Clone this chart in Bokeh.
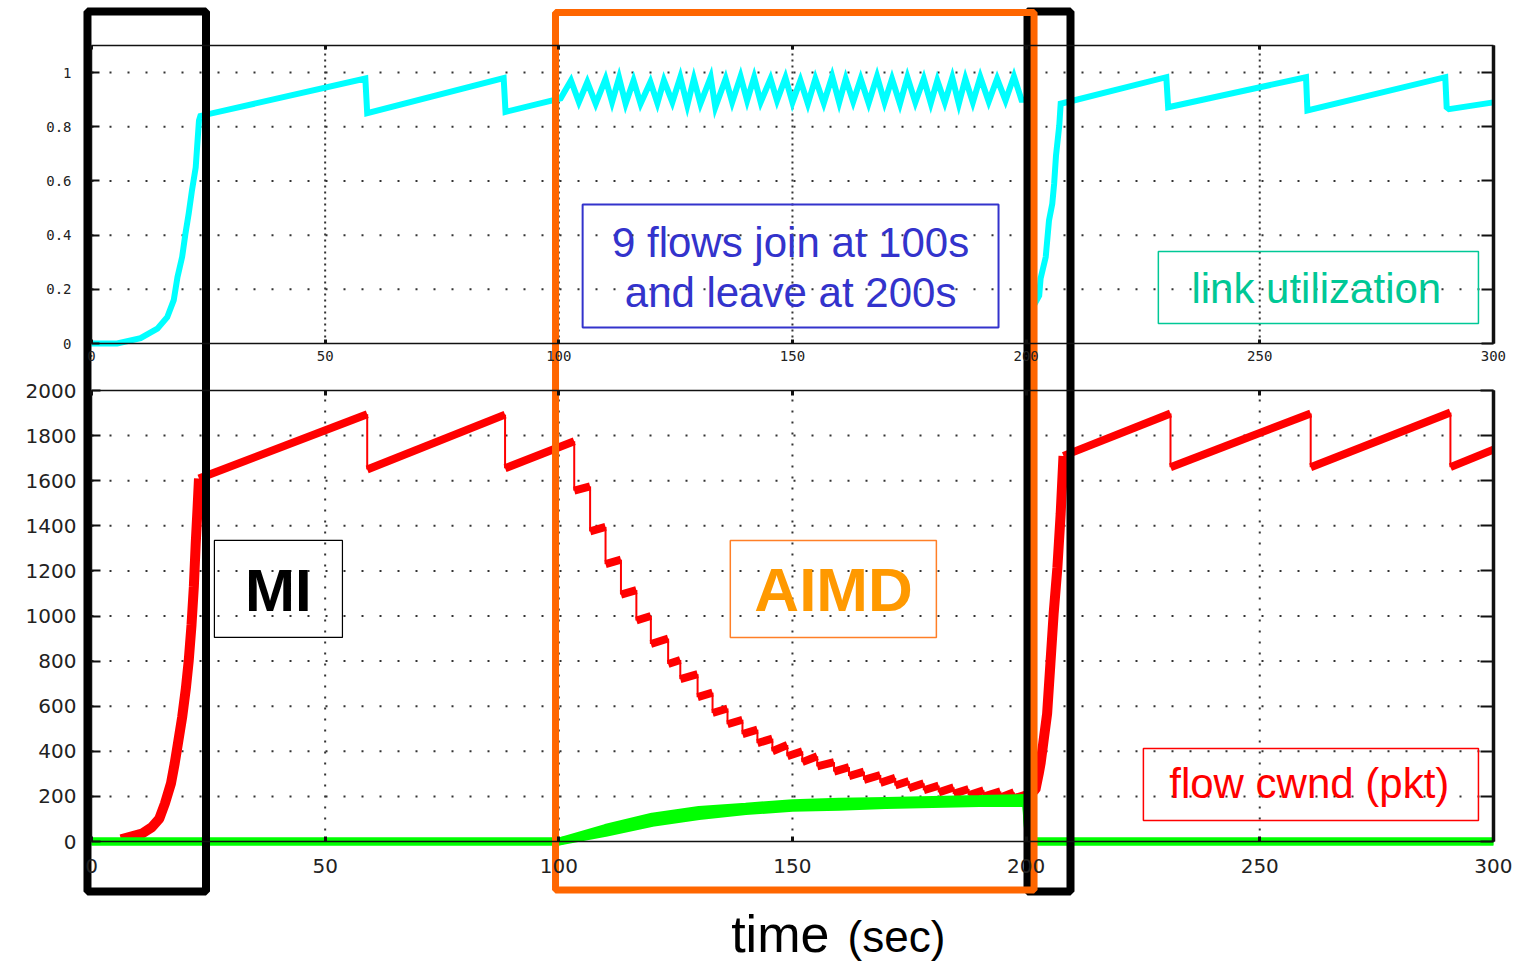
from bokeh.plotting import figure
from bokeh.models import Range1d, LinearAxis, FixedTicker, Label
from bokeh.embed import file_html
from bokeh.resources import INLINE

# ---------------------------------------------------------------- data
x_ticks = [0, 50, 100, 150, 200, 250, 300]
util_ticks = [0, 0.2, 0.4, 0.6, 0.8, 1.0]
util_tick_labels = ["0", "0.2", "0.4", "0.6", "0.8", "1"]
cwnd_ticks = [0, 200, 400, 600, 800, 1000, 1200, 1400, 1600, 1800, 2000]

# link utilization: start-up ramp and additive-increase sawtooth
util_ramp_t = [0, 5.5, 10.5, 14.1, 16.2, 17.6, 18.4, 19.4, 20.1, 20.8, 21.5, 22.3, 22.6, 23.0, 23.3]
util_ramp_v = [0, 0, 0.02, 0.055, 0.097, 0.16, 0.245, 0.32, 0.405, 0.48, 0.565, 0.65, 0.725, 0.823, 0.84]
util_ai_t = [58.6, 59.0, 88.2, 88.6, 100.4]
util_ai_v = [0.978, 0.85, 0.98, 0.855, 0.905]
# oscillation while the 9 extra flows are present
util_peak_t = [102.6, 106.1, 110.0, 112.9, 116.0, 119.6, 122.5, 126.0, 128.9, 132.5,
               135.7, 138.9, 141.8, 145.3, 148.5, 151.7, 154.9, 158.5, 161.4, 164.6,
               168.1, 171.3, 174.6, 178.1, 181.0, 184.2, 187.0, 190.2, 193.8, 197.4]
util_peak_v = [0.971, 0.965, 0.977, 0.981, 0.971, 0.965, 0.971, 0.983, 0.977, 0.983,
               0.977, 0.986, 0.983, 0.977, 0.981, 0.971, 0.977, 0.986, 0.977, 0.977,
               0.986, 0.977, 0.983, 0.977, 0.971, 0.981, 0.977, 0.983, 0.977, 0.986]
util_trough_t = [104.3, 107.9, 111.4, 114.3, 117.5, 121.1, 124.3, 127.5, 130.3, 133.5,
                 137.1, 140.3, 143.2, 146.7, 150.0, 153.3, 156.7, 160.0, 163.0, 166.3,
                 169.7, 173.0, 176.3, 179.6, 182.6, 185.6, 188.6, 192.0, 195.6, 199.0]
util_trough_v = [0.891, 0.885, 0.891, 0.885, 0.885, 0.887, 0.891, 0.879, 0.885, 0.872,
                 0.891, 0.897, 0.891, 0.897, 0.890, 0.885, 0.887, 0.890, 0.893, 0.887,
                 0.890, 0.885, 0.890, 0.887, 0.890, 0.885, 0.890, 0.893, 0.897, 0.900]
util_post_t = [200.5, 201.0, 202.8, 203.1, 204.2, 204.9, 205.6, 206.0, 206.4, 207.1, 207.4,
               230.0, 230.4, 259.9, 260.2, 289.7, 290.0, 290.5, 300.0]
util_post_v = [0.90, 0.12, 0.177, 0.24, 0.319, 0.454, 0.516, 0.59, 0.694, 0.805, 0.885,
               0.983, 0.872, 0.983, 0.86, 0.983, 0.872, 0.865, 0.89]

# flow 1 cwnd (pkt): multiplicative-increase phases
cwnd_mi1_t = [6.3, 10.8, 12.9, 14.5, 15.7, 17.0, 17.8, 18.6, 19.4, 20.2, 20.8, 21.4, 21.9, 22.3, 22.7, 23.0]
cwnd_mi1_v = [10, 35, 63, 101, 168, 257, 346, 448, 551, 680, 800, 960, 1130, 1320, 1480, 1610]
cwnd_mi2_t = [200.3, 202.0, 202.7, 203.1, 204.5, 205.2, 205.9, 206.7, 207.4, 208.0]
cwnd_mi2_v = [210, 230, 300, 346, 567, 789, 1011, 1216, 1454, 1710]
# loss events before 200 s: time, cwnd before and after the decrease
loss1_t = [59.0, 88.5, 103.3, 106.7, 110.0, 113.3, 116.6, 119.7, 123.4, 126.0, 129.7, 132.9,
           136.1, 139.3, 142.5, 145.7, 148.9, 152.1, 155.3, 158.9, 162.1, 165.3, 168.8,
           172.0, 174.9, 178.1, 181.3, 184.5, 187.7, 190.9, 194.5, 197.4]
loss1_before = [1895, 1893, 1775, 1575, 1395, 1250, 1115, 1000, 900, 805, 742, 660, 590, 540,
                496, 456, 428, 400, 378, 352, 330, 310, 295, 282, 268, 258, 248, 240, 233,
                227, 222, 218]
loss1_after = [1650, 1655, 1556, 1375, 1230, 1095, 980, 876, 787, 720, 640, 570, 520, 476,
               436, 400, 378, 352, 333, 310, 290, 273, 260, 248, 236, 227, 218, 211, 205,
               199, 195, 192]
# loss events after 200 s
loss2_t = [230.9, 260.9, 290.8]
loss2_before = [1898, 1898, 1902]
loss2_after = [1660, 1660, 1660]
cwnd_end_t, cwnd_end_v = 300.0, 1738

# the 9 other flows (upper and lower edge of the green band)
other_t = [0, 100, 110, 120, 130, 140, 150, 160, 170, 180, 190, 200, 200.6, 300]
other_hi = [0, 0, 60, 110, 140, 154, 170, 176, 180, 184, 188, 193, 0, 0]
other_lo = [0, 0, 38, 83, 113, 135, 150, 154, 162, 166, 171, 171, 0, 0]

# ---------------------------------------------------------------- layout
W, H = 1530, 963
PX_T0, PX_PER_S = 91.0, 4.673           # x: t=0 at 91 px
PX_C0, PX_PER_PKT = 841.0, 0.2255       # lower panel: cwnd 0 at 841 px
PX_U0, PX_PER_U = 343.0, 270.91         # upper panel: util 0 at 343 px

x_range = Range1d(-PX_T0 / PX_PER_S, (W - PX_T0) / PX_PER_S)
c_range = Range1d(-(H - PX_C0) / PX_PER_PKT, PX_C0 / PX_PER_PKT)
u_range = Range1d(-(H - PX_U0) / PX_PER_U, PX_U0 / PX_PER_U)

p = figure(width=W, height=H, x_range=x_range, y_range=c_range,
           x_axis_type=None, y_axis_type=None, toolbar_location=None,
           output_backend="svg", min_border=0, outline_line_color=None,
           background_fill_color="white", border_fill_color="white")
p.extra_y_ranges = {"util": u_range}

AX_COLOR = "#111111"
LBL_COLOR = "#222222"


def add_axis(side, rname, loc, bounds, ticks, labels, tick_in, line_w, font_size,
             font, standoff, tick_w=2):
    if labels is None:
        overrides = {t: "" for t in ticks}
    else:
        overrides = dict(zip(ticks, labels))
    kw = {}
    if rname is not None:
        kw["y_range_name"] = rname
    ax = LinearAxis(fixed_location=loc, bounds=bounds,
                    ticker=FixedTicker(ticks=ticks, minor_ticks=[]),
                    major_label_overrides=overrides,
                    major_tick_in=tick_in, major_tick_out=0,
                    major_tick_line_width=tick_w, major_tick_line_color=AX_COLOR,
                    minor_tick_line_color=None,
                    axis_line_color=AX_COLOR, axis_line_width=line_w,
                    major_label_text_font=font, major_label_text_font_size=font_size,
                    major_label_text_color=LBL_COLOR,
                    major_label_standoff=standoff, **kw)
    p.add_layout(ax, side)


x_lbls = [str(v) for v in x_ticks]
c_lbls = [str(v) for v in cwnd_ticks]
# upper panel axes
add_axis("left", "util", 0, (0, 1.1), util_ticks, util_tick_labels, 8, 1.5, "14px", "DejaVu Sans Mono", 20)
add_axis("below", "util", 0, (0, 300), x_ticks, x_lbls, 4, 1.5, "14px", "DejaVu Sans Mono", 7, 3)
add_axis("above", "util", 1.1, (0, 300), x_ticks, None, 4, 1.5, "10px", "DejaVu Sans", 0, 3)
add_axis("right", "util", 300, (0, 1.1), util_ticks, None, 12, 3.5, "10px", "DejaVu Sans", 0, 2)
# lower panel axes
add_axis("left", None, 0, (0, 2000), cwnd_ticks, c_lbls, 9, 1.5, "20px", "DejaVu Sans", 15)
add_axis("below", None, 0, (0, 300), x_ticks, x_lbls, 5, 1.5, "20px", "DejaVu Sans", 17, 3)
add_axis("above", None, 2000, (0, 300), x_ticks, None, 5, 1.5, "10px", "DejaVu Sans", 0, 3)
add_axis("right", None, 300, (0, 2000), cwnd_ticks, None, 13, 3.5, "10px", "DejaVu Sans", 0, 2)

# dotted grids
GRID = dict(line_color="#333333", line_width=2)
vx = x_ticks[1:-1]
uy = util_ticks[1:]
cy = cwnd_ticks[1:-1]
p.segment(x0=[0] * len(uy), x1=[300] * len(uy), y0=uy, y1=uy, y_range_name="util",
          line_dash="2 16", **GRID)
p.segment(x0=vx, x1=vx, y0=[0] * len(vx), y1=[1.1] * len(vx), y_range_name="util",
          line_dash="2 4", **GRID)
p.segment(x0=[0] * len(cy), x1=[300] * len(cy), y0=cy, y1=cy,
          line_dash="2 16", **GRID)
p.segment(x0=vx, x1=vx, y0=[0] * len(vx), y1=[2000] * len(vx),
          line_dash="2 9", **GRID)

# ---------------------------------------------------------------- link utilization
util_osc_t, util_osc_v = [], []
for tp, vp, tt, vt in zip(util_peak_t, util_peak_v, util_trough_t, util_trough_v):
    util_osc_t += [tp, tt]
    util_osc_v += [vp, vt]
util_t = util_ramp_t + util_ai_t + util_osc_t + util_post_t
util_v = util_ramp_v + util_ai_v + util_osc_v + util_post_v
p.line(util_t, util_v, y_range_name="util", line_color="#00FFFF", line_width=6,
       line_join="miter")


# ---------------------------------------------------------------- flow cwnd
def chain(start, loss_t, before, after, end):
    rx0, ry0, rx1, ry1, dx, dy0, dy1 = [], [], [], [], [], [], []
    cx, cv = start
    for t, b, a in zip(loss_t, before, after):
        rx0.append(cx); ry0.append(cv); rx1.append(t); ry1.append(b)
        dx.append(t); dy0.append(b); dy1.append(a)
        cx, cv = t, a
    rx0.append(cx); ry0.append(cv); rx1.append(end[0]); ry1.append(end[1])
    return (rx0, ry0, rx1, ry1), (dx, dy0, dy1)


RED = "#FF0000"
runs1, drops1 = chain((cwnd_mi1_t[-1], cwnd_mi1_v[-1]), loss1_t, loss1_before, loss1_after,
                      (cwnd_mi2_t[0], cwnd_mi2_v[0]))
runs2, drops2 = chain((cwnd_mi2_t[-1], cwnd_mi2_v[-1]), loss2_t, loss2_before, loss2_after,
                      (cwnd_end_t, cwnd_end_v))
for runs, drops in ((runs1, drops1), (runs2, drops2)):
    p.segment(x0=runs[0], y0=runs[1], x1=runs[2], y1=runs[3], line_color=RED, line_width=8)
    p.segment(x0=drops[0], y0=drops[1], x1=drops[0], y1=drops[2], line_color=RED, line_width=2)
p.line(cwnd_mi1_t, cwnd_mi1_v, line_color=RED, line_width=10)
p.line(cwnd_mi2_t, cwnd_mi2_v, line_color=RED, line_width=10)

# other flows
p.line(other_t, other_lo, line_color="#00FF00", line_width=8)
p.line(other_t, other_hi, line_color="#00FF00", line_width=8)

# ---------------------------------------------------------------- annotation boxes
BOX_TOP, BOX_BOT = 3681, -222
p.quad(left=[-0.86, 200.3], right=[24.5, 209.5], top=[BOX_TOP, BOX_TOP],
       bottom=[BOX_BOT, BOX_BOT], fill_color=None, line_color="black", line_width=8)
p.quad(left=[99.3], right=[201.7], top=[3676], bottom=[-215],
       fill_color=None, line_color="#FF6600", line_width=7)

# text boxes
p.quad(left=[105.1], right=[194.1], top=[0.513], bottom=[0.059], y_range_name="util",
       fill_color=None, line_color="#3333CC", line_width=2)
p.quad(left=[228.3], right=[296.8], top=[0.34], bottom=[0.074], y_range_name="util",
       fill_color=None, line_color="#00C896", line_width=1.5)
p.quad(left=[225.1], right=[296.8], top=[412], bottom=[93],
       fill_color=None, line_color="#FF0000", line_width=1.5)
p.quad(left=[26.3], right=[53.7], top=[1335], bottom=[905],
       fill_color=None, line_color="black", line_width=1.2)
p.quad(left=[136.7], right=[180.8], top=[1335], bottom=[905],
       fill_color=None, line_color="#FF7F27", line_width=1.5)

SANS = "Liberation Sans"


def label(x, y, text, size, color, rname=None, align="center", style="normal"):
    kw = {"y_range_name": rname} if rname else {}
    p.add_layout(Label(x=x, y=y, text=text, text_font=SANS, text_font_size=size,
                       text_color=color, text_align=align, text_baseline="middle",
                       text_font_style=style, **kw))


label(149.6, 0.373, "9 flows join at 100s", "42px", "#3333CC", "util")
label(149.6, 0.188, "and leave at 200s", "42px", "#3333CC", "util")
label(262.1, 0.203, "link utilization", "42px", "#00C896", "util")
label(260.6, 257, "flow cwnd (pkt)", "42px", "#FF0000")
label(40.0, 1113, "MI", "60px", "black", style="bold")
label(158.8, 1116, "AIMD", "62px", "#FF9900", style="bold")
label(157.9, -408, "time", "52px", "black", align="right")
label(161.8, -421, "(sec)", "44px", "black", align="left")

open("out.html", "w").write(file_html(p, INLINE))
